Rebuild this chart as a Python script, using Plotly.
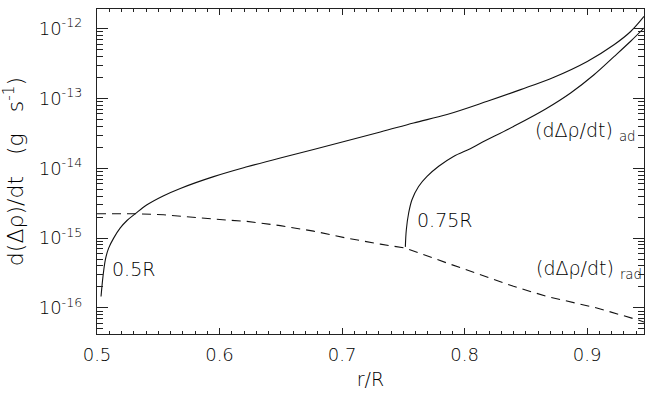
import plotly.graph_objects as go

# Adiabatic rate, integration started at 0.5 R
r_ad_050 = [0.5033, 0.5049, 0.5068, 0.5095, 0.5136, 0.5190, 0.5245, 0.5313, 0.5408,
            0.5544, 0.5680, 0.5952, 0.6224, 0.6496, 0.6768, 0.7313, 0.7584, 0.7857,
            0.8186, 0.8458, 0.8730, 0.9002, 0.9220, 0.9356, 0.9465]
rate_ad_050 = [1.46e-16, 2.83e-16, 4.9e-16, 7.2e-16, 1.0e-15, 1.40e-15, 1.79e-15, 2.24e-15,
               3.0e-15, 4.05e-15, 5.15e-15, 7.6e-15, 1.05e-14, 1.41e-14, 1.86e-14,
               3.31e-14, 4.47e-14, 5.89e-14, 9.12e-14, 1.34e-13, 2.02e-13,
               3.40e-13, 5.89e-13, 9.12e-13, 1.50e-12]

# Adiabatic rate, integration started at 0.75 R
r_ad_075 = [0.7517, 0.7525, 0.7544, 0.7571, 0.7625, 0.7694, 0.7789, 0.7910, 0.8047,
            0.8129, 0.8400, 0.8662, 0.8866, 0.9057, 0.9220, 0.9356, 0.9465]
rate_ad_075 = [7.5e-16, 1.32e-15, 2.29e-15, 3.55e-15, 5.5e-15, 7.66e-15, 1.07e-14,
               1.48e-14, 1.91e-14, 2.29e-14, 3.98e-14, 7.08e-14, 1.20e-13,
               2.19e-13, 3.98e-13, 6.61e-13, 1.02e-12]

# Radiative rate
r_rad = [0.5000, 0.5313, 0.5544, 0.5816, 0.6088, 0.6224, 0.6496, 0.6768, 0.7040,
         0.7313, 0.7517, 0.7857, 0.8129, 0.8400, 0.8673, 0.9080, 0.9408, 0.9465]
rate_rad = [2.24e-15, 2.24e-15, 2.16e-15, 1.95e-15, 1.80e-15, 1.74e-15, 1.51e-15,
            1.26e-15, 1.0e-15, 8.2e-16, 7.2e-16, 4.4e-16, 3.0e-16, 2.04e-16, 1.46e-16,
            1.0e-16, 6.8e-17, 6.3e-17]

x_ticks = [0.5, 0.6, 0.7, 0.8, 0.9]
x_ticklabels = ["0.5", "0.6", "0.7", "0.8", "0.9"]
y_exponents = [-16, -15, -14, -13, -12]

FONT = "DejaVu Sans"
WEIGHT = 200
INK = "#111111"
TXT = "#000000"
AX = "#222222"
NB = "\u00a0"

fig = go.Figure()
fig.add_trace(go.Scatter(x=r_ad_050, y=rate_ad_050, mode="lines",
                         line=dict(color=INK, width=1.1), line_shape="spline"))
fig.add_trace(go.Scatter(x=r_ad_075, y=rate_ad_075, mode="lines",
                         line=dict(color=INK, width=1.1), line_shape="spline"))
fig.add_trace(go.Scatter(x=r_rad, y=rate_rad, mode="lines",
                         line=dict(color=INK, width=1.1, dash="9px,6px")))

x_minor = [round(0.5 + 0.01 * i, 2) for i in range(45)]
y_minor = [m * 10.0 ** e for e in range(-17, -11) for m in range(2, 10)]

fig.update_xaxes(
    range=[0.5, 0.9465], showgrid=False, zeroline=False,
    showline=True, linecolor=AX, linewidth=1.4, mirror="allticks",
    ticks="inside", ticklen=6, tickwidth=1.3, tickcolor=AX,
    tickmode="array", tickvals=x_ticks, ticktext=x_ticklabels,
    minor=dict(ticks="inside", ticklen=3, tickmode="array", tickvals=x_minor,
               tickwidth=1.3, tickcolor=AX, showgrid=False),
    tickfont=dict(family=FONT, size=18, color=TXT, weight=WEIGHT),
    ticklabelstandoff=4,
    title=dict(text="r/R", font=dict(family=FONT, size=19, color=TXT, weight=WEIGHT),
               standoff=8),
)
fig.update_yaxes(
    type="log", range=[-16.373, -11.718], showgrid=False, zeroline=False,
    showline=True, linecolor=AX, linewidth=1.4, mirror="allticks",
    ticks="inside", ticklen=11, tickwidth=1.3, tickcolor=AX,
    tickmode="array", tickvals=[10.0 ** e for e in y_exponents],
    ticktext=["10<sup>-%d</sup>" % (-e) for e in y_exponents],
    minor=dict(ticks="inside", ticklen=6, tickmode="array", tickvals=y_minor,
               tickwidth=1.3, tickcolor=AX, showgrid=False),
    tickfont=dict(family=FONT, size=18, color=TXT, weight=WEIGHT),
    ticklabelstandoff=10,
    title=dict(text="d(\u0394\u03c1)/dt" + NB * 3 + "(g" + NB * 3 + "s<sup>-1</sup>)",
               font=dict(family=FONT, size=22, color=TXT, weight=WEIGHT), standoff=10),
)

labels = [
    (0.5108, -15.44, "0.5R"),
    (0.7598, -14.74, "0.75R"),
    (0.8562, -13.476, "(d\u0394\u03c1/dt)" + NB + "<sub>ad</sub>"),
    (0.8570, -15.45, "(d\u0394\u03c1/dt)" + NB + "<sub>rad</sub>"),
]
for lx, ly, txt in labels:
    fig.add_annotation(x=lx, y=ly, text=txt, showarrow=False, xanchor="left",
                       yanchor="middle",
                       font=dict(family=FONT, size=19, color=TXT, weight=WEIGHT))

fig.update_layout(
    width=647, height=394, showlegend=False,
    margin=dict(l=97, r=3, t=9, b=60),
    plot_bgcolor="white", paper_bgcolor="white",
)

fig.write_html("out.html")
